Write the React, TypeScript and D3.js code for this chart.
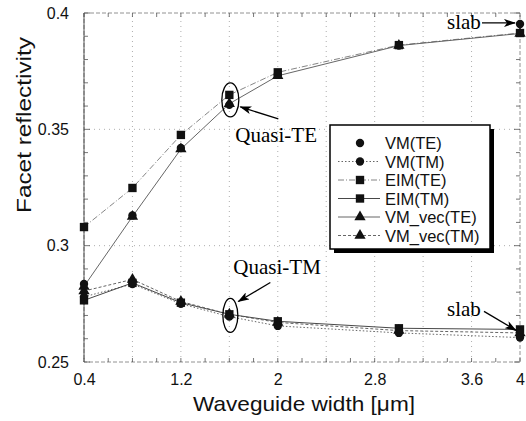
import React, { useEffect, useRef } from "react";
import * as d3 from "d3";

// waveguide widths (um)
const widths = [0.4, 0.8, 1.2, 1.6, 2.0, 3.0, 4.0];

// facet reflectivity per method
const vmTE = [0.2835, 0.313, 0.342, 0.3605, 0.3735, 0.386, 0.3953];
const vmTM = [0.278, 0.2835, 0.275, 0.2695, 0.2655, 0.2625, 0.2605];
const eimTE = [0.308, 0.3248, 0.3476, 0.3648, 0.3745, 0.3862, 0.3914];
const eimTM = [0.2765, 0.284, 0.2755, 0.2705, 0.2675, 0.2645, 0.264];
const vecTE = [0.2825, 0.3125, 0.3415, 0.361, 0.373, 0.386, 0.3912];
const vecTM = [0.2805, 0.2855, 0.276, 0.2705, 0.267, 0.2635, 0.2625];

const seriesNames = ["VM(TE)", "VM(TM)", "EIM(TE)", "EIM(TM)", "VM_vec(TE)", "VM_vec(TM)"];

const xTickValues = [0.4, 1.2, 2, 2.8, 3.6, 4];
const xTickLabels = ["0.4", "1.2", "2", "2.8", "3.6", "4"];
const yTickValues = [0.25, 0.3, 0.35, 0.4];
const yTickLabels = ["0.25", "0.3", "0.35", "0.4"];

const App = () => {
  const ref = useRef<SVGSVGElement>(null);

  useEffect(() => {
    const svg = d3.select(ref.current);
    svg.selectAll("*").remove();

    const x = d3.scaleLinear().domain([0.4, 4]).range([84, 520]);
    const y = d3.scaleLinear().domain([0.25, 0.4]).range([362, 13]);
    const sans = "'Liberation Sans', Arial, sans-serif";
    const serif = "'Liberation Serif', 'Times New Roman', serif";

    const defs = svg.append("defs");
    defs.append("marker")
      .attr("id", "arrow")
      .attr("viewBox", "0 0 12 8")
      .attr("refX", 11)
      .attr("refY", 4)
      .attr("markerWidth", 12)
      .attr("markerHeight", 8)
      .attr("markerUnits", "userSpaceOnUse")
      .attr("orient", "auto")
      .append("path")
      .attr("d", "M0,0 L12,4 L0,8 L3,4 Z")
      .attr("fill", "#000");

    // grid
    const g = svg.append("g");
    d3.range(0.8, 3.7, 0.4).forEach(v => {
      g.append("line")
        .attr("x1", x(v)).attr("x2", x(v))
        .attr("y1", y(0.25)).attr("y2", y(0.4))
        .attr("stroke", "#999").attr("stroke-width", 0.8)
        .attr("stroke-dasharray", "1,4");
    });
    [0.3, 0.35].forEach(v => {
      g.append("line")
        .attr("x1", x(0.4)).attr("x2", x(4))
        .attr("y1", y(v)).attr("y2", y(v))
        .attr("stroke", "#999").attr("stroke-width", 0.8)
        .attr("stroke-dasharray", "1,4");
    });

    // frame
    g.append("rect")
      .attr("x", x(0.4)).attr("y", y(0.4))
      .attr("width", x(4) - x(0.4)).attr("height", y(0.25) - y(0.4))
      .attr("fill", "none").attr("stroke", "#777").attr("stroke-width", 0.8)
      .attr("stroke-dasharray", "4,2");
    g.append("line")
      .attr("x1", x(0.4)).attr("x2", x(0.4))
      .attr("y1", y(0.25)).attr("y2", y(0.4))
      .attr("stroke", "#444").attr("stroke-width", 0.9);

    // ticks
    d3.range(0.25, 0.4001, 0.01).forEach(v => {
      const major = Math.abs((v * 100) % 5) < 0.01 || Math.abs((v * 100) % 5 - 5) < 0.01;
      const len = major ? 6 : 4;
      g.append("line").attr("x1", x(0.4)).attr("x2", x(0.4) + len)
        .attr("y1", y(v)).attr("y2", y(v)).attr("stroke", "#555").attr("stroke-width", 0.8);
      g.append("line").attr("x1", x(4)).attr("x2", x(4) - len)
        .attr("y1", y(v)).attr("y2", y(v)).attr("stroke", "#555").attr("stroke-width", 0.8);
    });
    d3.range(0.4, 4.01, 0.2).forEach(v => {
      g.append("line").attr("x1", x(v)).attr("x2", x(v))
        .attr("y1", y(0.25)).attr("y2", y(0.25) - 4).attr("stroke", "#555").attr("stroke-width", 0.8);
      g.append("line").attr("x1", x(v)).attr("x2", x(v))
        .attr("y1", y(0.4)).attr("y2", y(0.4) + 4).attr("stroke", "#555").attr("stroke-width", 0.8);
    });

    // axis labels
    const xAxis = d3.axisBottom(x).tickValues(xTickValues).tickSize(0)
      .tickFormat((d, i) => xTickLabels[i]);
    const xg = svg.append("g").attr("transform", `translate(0,${y(0.25) + 9})`).call(xAxis);
    xg.select(".domain").remove();
    xg.selectAll("text").attr("font-family", sans).attr("font-size", 16).attr("fill", "#111");

    const yAxis = d3.axisLeft(y).tickValues(yTickValues).tickSize(0)
      .tickFormat((d, i) => yTickLabels[i]);
    const yg = svg.append("g").attr("transform", `translate(${x(0.4) - 12},0)`).call(yAxis);
    yg.select(".domain").remove();
    yg.selectAll("text").attr("font-family", sans).attr("font-size", 16).attr("fill", "#111");

    svg.append("text")
      .attr("x", 304).attr("y", 411)
      .attr("text-anchor", "middle").attr("font-family", sans).attr("font-size", 21)
      .attr("textLength", 222).attr("lengthAdjust", "spacingAndGlyphs")
      .attr("fill", "#111")
      .text("Waveguide width [\u03bcm]");
    svg.append("text")
      .attr("transform", `translate(31,${125}) rotate(-90)`)
      .attr("text-anchor", "middle").attr("font-family", sans).attr("font-size", 21)
      .attr("textLength", 176).attr("lengthAdjust", "spacingAndGlyphs")
      .attr("fill", "#111")
      .text("Facet reflectivity");

    // series
    const series = [
      { name: seriesNames[0], values: vmTE, shape: "circle", stroke: "none", dash: "" },
      { name: seriesNames[1], values: vmTM, shape: "circle", stroke: "#555", dash: "1.5,2" },
      { name: seriesNames[2], values: eimTE, shape: "square", stroke: "#777", dash: "6,2,1,2" },
      { name: seriesNames[3], values: eimTM, shape: "square", stroke: "#333", dash: "" },
      { name: seriesNames[4], values: vecTE, shape: "triangle", stroke: "#555", dash: "" },
      { name: seriesNames[5], values: vecTM, shape: "triangle", stroke: "#555", dash: "3,2" },
    ];

    const symbolFor = (shape: string) =>
      shape === "circle" ? d3.symbolCircle : shape === "square" ? d3.symbolSquare : d3.symbolTriangle;
    const sizeFor = (shape: string) => (shape === "circle" ? 55 : shape === "square" ? 70 : 55);

    const line = d3.line<number>().x((d, i) => x(widths[i])).y(d => y(d));

    series.forEach(s => {
      if (s.stroke !== "none") {
        svg.append("path")
          .attr("d", line(s.values))
          .attr("fill", "none").attr("stroke", s.stroke).attr("stroke-width", 0.9)
          .attr("stroke-dasharray", s.dash || null);
      }
    });
    series.slice().reverse().forEach(s => {
      const sym = d3.symbol().type(symbolFor(s.shape)).size(sizeFor(s.shape));
      svg.append("g").selectAll("path")
        .data(s.values)
        .join("path")
        .attr("transform", (d, i) => `translate(${x(widths[i])},${y(d)})`)
        .attr("d", sym())
        .attr("fill", "#111");
    });

    // annotations
    const ann = svg.append("g");
    const teCy = y((eimTE[3] + vmTE[3]) / 2);
    const tmCy = y((eimTM[3] + vmTM[3]) / 2);
    ann.append("ellipse").attr("cx", x(1.6) + 1).attr("cy", teCy)
      .attr("rx", 8.5).attr("ry", 17).attr("fill", "none").attr("stroke", "#000").attr("stroke-width", 1.3);
    ann.append("ellipse").attr("cx", x(1.6) + 1).attr("cy", tmCy)
      .attr("rx", 7.5).attr("ry", 17).attr("fill", "none").attr("stroke", "#000").attr("stroke-width", 1.3);

    ann.append("line").attr("x1", x(1.6) + 49).attr("y1", teCy + 19)
      .attr("x2", x(1.6) + 11).attr("y2", teCy + 7)
      .attr("stroke", "#000").attr("stroke-width", 1.3).attr("marker-end", "url(#arrow)");
    ann.append("text").attr("x", x(1.6) + 6).attr("y", teCy + 42)
      .attr("font-family", serif).attr("font-size", 21).attr("fill", "#000").text("Quasi-TE");

    ann.append("line").attr("x1", x(1.6) + 41).attr("y1", tmCy - 33)
      .attr("x2", x(1.6) + 9).attr("y2", tmCy - 14)
      .attr("stroke", "#000").attr("stroke-width", 1.3).attr("marker-end", "url(#arrow)");
    ann.append("text").attr("x", x(1.6) + 4).attr("y", tmCy - 41)
      .attr("font-family", serif).attr("font-size", 21).attr("fill", "#000").text("Quasi-TM");

    ann.append("text").attr("x", x(4) - 73).attr("y", y(vmTE[6]) + 5)
      .attr("font-family", serif).attr("font-size", 21).attr("fill", "#000").text("slab");
    ann.append("line").attr("x1", x(4) - 38).attr("y1", y(vmTE[6]) - 1)
      .attr("x2", x(4) - 5).attr("y2", y(vmTE[6]) - 1)
      .attr("stroke", "#000").attr("stroke-width", 1.3).attr("marker-end", "url(#arrow)");

    ann.append("text").attr("x", x(4) - 73).attr("y", y(eimTM[6]) - 13)
      .attr("font-family", serif).attr("font-size", 21).attr("fill", "#000").text("slab");
    ann.append("line").attr("x1", x(4) - 36).attr("y1", y(eimTM[6]) - 18)
      .attr("x2", x(4) - 4).attr("y2", y(eimTM[6]) + 1)
      .attr("stroke", "#000").attr("stroke-width", 1.3).attr("marker-end", "url(#arrow)");

    // legend
    const lx = 330, ly = 125, lw = 160, lh = 124;
    const leg = svg.append("g");
    leg.append("rect").attr("x", lx + 4).attr("y", ly + 4).attr("width", lw).attr("height", lh).attr("fill", "#000");
    leg.append("rect").attr("x", lx).attr("y", ly).attr("width", lw).attr("height", lh)
      .attr("fill", "#fff").attr("stroke", "#000").attr("stroke-width", 1.5);
    series.forEach((s, i) => {
      const yy = ly + 18 + i * 18.5;
      if (s.stroke !== "none") {
        leg.append("line").attr("x1", lx + 8).attr("x2", lx + 50).attr("y1", yy).attr("y2", yy)
          .attr("stroke", s.stroke).attr("stroke-width", 0.9).attr("stroke-dasharray", s.dash || null);
      }
      leg.append("path")
        .attr("transform", `translate(${lx + 30},${yy})`)
        .attr("d", d3.symbol().type(symbolFor(s.shape)).size(sizeFor(s.shape))())
        .attr("fill", "#111");
      leg.append("text").attr("x", lx + 55).attr("y", yy + 6)
        .attr("font-family", sans).attr("font-size", 16.5).attr("fill", "#111").text(s.name);
    });
  }, []);

  return (
    <svg
      ref={ref}
      width={526}
      height={421}
      style={{ position: "absolute", left: 0, top: 0, background: "#fff" }}
    />
  );
};

export default App;
